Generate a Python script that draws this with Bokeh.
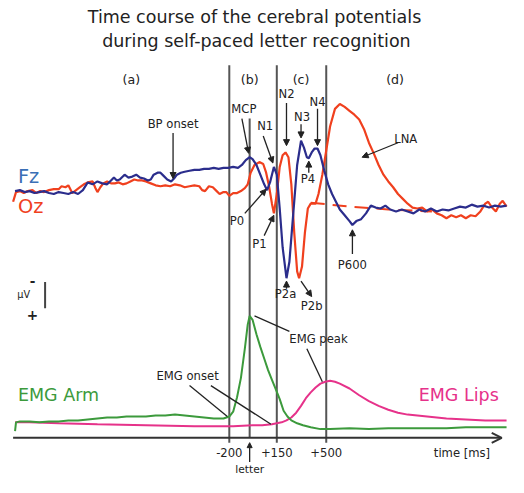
from bokeh.plotting import figure
from bokeh.models import ColumnDataSource, Arrow, NormalHead, OpenHead
from bokeh.core.properties import value
from bokeh.embed import file_html
from bokeh.resources import INLINE

# ---------------- data (schematic units; y grows downward = positive µV) -------------
fz_x = [15, 20, 25, 30, 35, 40, 45, 50, 55, 60, 65, 70, 75, 80, 85, 90, 95, 100, 105, 110, 114, 117, 120, 123,
        128, 132, 136, 140, 144, 148, 152, 155, 158, 162, 165, 168, 172, 176, 179, 182, 186, 190, 195, 200, 205,
        210, 215, 220, 225, 230, 235, 240, 245, 249, 253, 257, 260, 264, 268, 272, 275, 278, 282, 285, 288, 291,
        295, 298, 302, 306, 310, 313, 316, 318, 321, 324, 327, 330, 334, 338, 342, 346, 350, 355, 360, 363, 367,
        372, 377, 382, 387, 392, 397, 402, 408, 414, 420, 426, 432, 438, 444, 450, 456, 462, 468, 474, 480, 486,
        492, 498, 504, 510, 516, 522]
fz_y = [197, 196, 198, 197, 199, 198, 197, 199, 200, 198, 199, 200, 198, 200, 196, 188, 190, 187, 189, 190, 186,
        183, 186, 185, 180, 183, 182, 180, 183, 184, 186, 185, 180, 178, 178, 181, 185, 187, 184, 180, 178, 177,
        176, 175, 175, 174, 174, 173, 174, 173, 173, 172, 173, 170, 165, 162, 164, 170, 180, 190, 196, 188, 172,
        180, 215, 255, 287, 270, 220, 170, 145, 152, 162, 163, 157, 153, 153, 160, 176, 190, 200, 208, 216, 222,
        228, 232, 228, 226, 220, 212, 214, 215, 212, 216, 218, 216, 218, 220, 216, 218, 215, 218, 216, 217, 215,
        213, 214, 211, 213, 212, 214, 212, 213, 212]

oz_x = [13, 16, 20, 24, 28, 33, 37, 41, 45, 50, 55, 60, 63, 67, 70, 74, 78, 82, 86, 90, 95, 98, 100, 103, 106,
        110, 114, 118, 122, 126, 130, 134, 138, 142, 146, 150, 155, 160, 165, 170, 175, 180, 185, 190, 195, 200,
        205, 208, 211, 215, 219, 223, 226, 230, 233, 236, 240, 244, 248, 252, 255, 258, 262, 267, 271, 274, 277,
        280, 282, 285, 288, 291, 294, 297, 300, 303, 306, 308, 311, 314, 317, 320, 325, 328, 332, 336, 340, 345,
        350, 355, 360, 365, 370, 375, 380, 385, 390, 395, 400, 405, 410, 415, 420, 425, 430, 435, 440, 445, 450,
        455, 460, 465, 470, 475, 480, 485, 490, 495, 500, 503, 507, 511, 515, 518, 522]
oz_y = [208, 198, 197, 199, 197, 196, 199, 197, 198, 196, 195, 195, 192, 193, 191, 199, 196, 193, 190, 188, 187,
        194, 198, 193, 189, 187, 189, 189, 188, 190, 189, 187, 185, 186, 186, 187, 189, 191, 192, 191, 192, 190,
        191, 193, 192, 191, 192, 196, 197, 192, 193, 197, 200, 198, 198, 202, 199, 199, 197, 194, 190, 178, 170,
        167, 169, 178, 192, 210, 220, 200, 172, 160, 157, 162, 190, 240, 280, 287, 275, 240, 215, 210, 210, 200,
        180, 155, 130, 112, 107, 110, 114, 118, 123, 133, 147, 158, 170, 180, 187, 193, 200, 205, 210, 214, 215,
        214, 218, 216, 220, 222, 225, 222, 224, 222, 225, 222, 223, 218, 210, 208, 214, 218, 210, 207, 213]

oz_base_x = [320, 360, 400, 445]
oz_base_y = [209, 213, 216, 218]

arm_x = [15, 16, 20, 30, 40, 50, 60, 70, 80, 90, 100, 110, 120, 130, 140, 150, 160, 170, 180, 190, 200, 210, 220,
         230, 236, 240, 244, 248, 252, 255, 257, 260, 264, 268, 272, 276, 280, 284, 288, 292, 296, 300, 306, 312,
         320, 330, 340, 360, 380, 400, 420, 440, 460, 480, 500, 522]
arm_y = [445, 436, 435, 435, 436, 435, 435, 434, 434, 433, 432, 431, 431, 430, 430, 430, 429, 429, 428, 429, 430,
         431, 432, 432, 430, 425, 410, 390, 360, 335, 326, 330, 345, 358, 370, 382, 392, 402, 412, 424, 430, 434,
         437, 439, 441, 443, 443, 442, 443, 442, 442, 442, 442, 441, 441, 441]

lips_x = [15, 30, 60, 100, 150, 200, 240, 260, 270, 280, 285, 290, 295, 300, 305, 310, 315, 320, 325, 330, 335,
          340, 345, 350, 360, 370, 380, 390, 400, 410, 420, 440, 460, 480, 500, 522]
lips_y = [436, 436, 437, 438, 439, 440, 440, 439, 439, 438, 437, 436, 434, 431, 426, 419, 411, 405, 400, 396, 394,
          393, 394, 396, 401, 408, 414, 419, 423, 426, 428, 430, 432, 433, 434, 434]

# event markers on the time axis
event_x = [236, 257, 285, 336]
event_top = [67, 122, 67, 67]
tick_labels = ["-200", "", "+150", "+500"]
panel_labels = ["(a)", "(b)", "(c)", "(d)"]
panel_x = [135, 257, 310, 407]

# component labels
comp_labels = ["BP onset", "MCP", "N1", "N2", "N3", "N4", "P4", "P0", "P1", "P2a", "P2b", "P600", "LNA",
               "EMG peak", "EMG onset"]
comp_x = [178, 251, 273, 295, 311, 327, 317, 244, 267, 294, 321, 363, 418, 328, 193]
comp_y = [128, 112, 130, 97, 120, 105, 184, 228, 252, 303, 316, 273, 143, 350, 388]

arr_x0 = [178, 249, 271, 295, 310, 327, 318, 252, 272, 295, 310, 363, 410]
arr_y0 = [137, 122, 140, 106, 128, 112, 178, 220, 243, 298, 290, 262, 147]
arr_x1 = [178, 256, 281, 295, 310, 327, 318, 274, 282, 295, 321, 363, 373]
arr_y1 = [184, 158, 168, 150, 142, 150, 166, 195, 222, 290, 306, 237, 162]

seg_x0 = [262, 316, 195, 217]
seg_y0 = [326, 360, 398, 398]
seg_x1 = [298, 332, 234, 279]
seg_y1 = [342, 394, 430, 438]

FONT = value("DejaVu Sans")
TXT = "#222222"
C_FZ, C_FZ_LBL = "#2b2d8c", "#3a6fb6"
C_OZ = "#f0401e"
C_ARM = "#3c9a3c"
C_LIPS = "#e6328a"

W, H = 508, 477
S = W / 524.0


def fs(px):
    return "%.1fpx" % (px * S)


p = figure(width=W, height=H, x_range=(0, 524), y_range=(493, 0),
           output_backend="svg", toolbar_location=None, min_border=0)
p.axis.visible = False
p.grid.visible = False
p.outline_line_color = None
p.background_fill_color = "white"

# title
p.text(x=[262, 264], y=[17, 42], text=["Time course of the cerebral potentials",
                                        "during self-paced letter recognition"],
       text_font=FONT, text_font_size=fs(18), text_color=TXT, text_align="center", text_baseline="middle")

# panel labels
p.text(x=panel_x, y=[82] * 4, text=panel_labels, text_font=FONT, text_font_size=fs(13),
       text_color=TXT, text_align="center", text_baseline="middle")

# event lines
p.segment(x0=event_x, y0=event_top, x1=event_x, y1=[457, 452, 457, 457], line_color="#555555", line_width=2)

# curves
p.line(oz_base_x, oz_base_y, line_color=C_OZ, line_width=2, line_dash="14 8")
p.line(lips_x, lips_y, line_color=C_LIPS, line_width=2)
p.line(arm_x, arm_y, line_color=C_ARM, line_width=2)
p.line(oz_x, oz_y, line_color=C_OZ, line_width=2.2)
p.line(fz_x, fz_y, line_color=C_FZ, line_width=2.2)

# series labels
p.text(x=[18, 18], y=[182, 213], text=["Fz", "Oz"], text_font=FONT, text_font_size=fs(20),
       text_color=[C_FZ_LBL, C_OZ], text_align="left", text_baseline="middle")
p.text(x=[18], y=[408], text=["EMG Arm"], text_font=FONT, text_font_size=fs(18),
       text_color=C_ARM, text_align="left", text_baseline="middle")
p.text(x=[514], y=[408], text=["EMG Lips"], text_font=FONT, text_font_size=fs(18),
       text_color=C_LIPS, text_align="right", text_baseline="middle")

# component annotations
p.text(x=comp_x, y=comp_y, text=comp_labels, text_font=FONT, text_font_size=fs(12),
       text_color=TXT, text_align="center", text_baseline="middle")
arr_src = ColumnDataSource(dict(x0=arr_x0, y0=arr_y0, x1=arr_x1, y1=arr_y1))
p.add_layout(Arrow(end=NormalHead(size=6, fill_color=TXT, line_color=TXT), source=arr_src,
                   x_start="x0", y_start="y0", x_end="x1", y_end="y1", line_color=TXT, line_width=1.3))
p.segment(x0=seg_x0, y0=seg_y0, x1=seg_x1, y1=seg_y1, line_color=TXT, line_width=1.3)

# µV scale bar
p.segment(x0=[46], y0=[291], x1=[46], y1=[318], line_color="#444444", line_width=2)
p.text(x=[33, 33], y=[290, 325], text=["-", "+"], text_font=FONT, text_font_size=fs(14),
       text_color=TXT, text_align="center", text_baseline="middle", text_font_style="bold")
p.text(x=[24], y=[304], text=["µV"], text_font=FONT, text_font_size=fs(10),
       text_color=TXT, text_align="center", text_baseline="middle")

# time axis
p.add_layout(Arrow(end=OpenHead(size=10, line_color="#333333", line_width=2), x_start=13, y_start=452,
                   x_end=517, y_end=452, line_color="#333333", line_width=2))
p.text(x=event_x, y=[467] * 4, text=tick_labels, text_font=FONT, text_font_size=fs(12),
       text_color=TXT, text_align="center", text_baseline="middle")
p.add_layout(Arrow(end=NormalHead(size=5, fill_color=TXT, line_color=TXT), x_start=257, y_start=477,
                   x_end=257, y_end=457, line_color=TXT, line_width=1.3))
p.text(x=[257], y=[485], text=["letter"], text_font=FONT, text_font_size=fs(11),
       text_color=TXT, text_align="center", text_baseline="middle")
p.text(x=[476], y=[468], text=["time [ms]"], text_font=FONT, text_font_size=fs(12),
       text_color=TXT, text_align="center", text_baseline="middle")

open("out.html", "w").write(file_html(p, INLINE))
